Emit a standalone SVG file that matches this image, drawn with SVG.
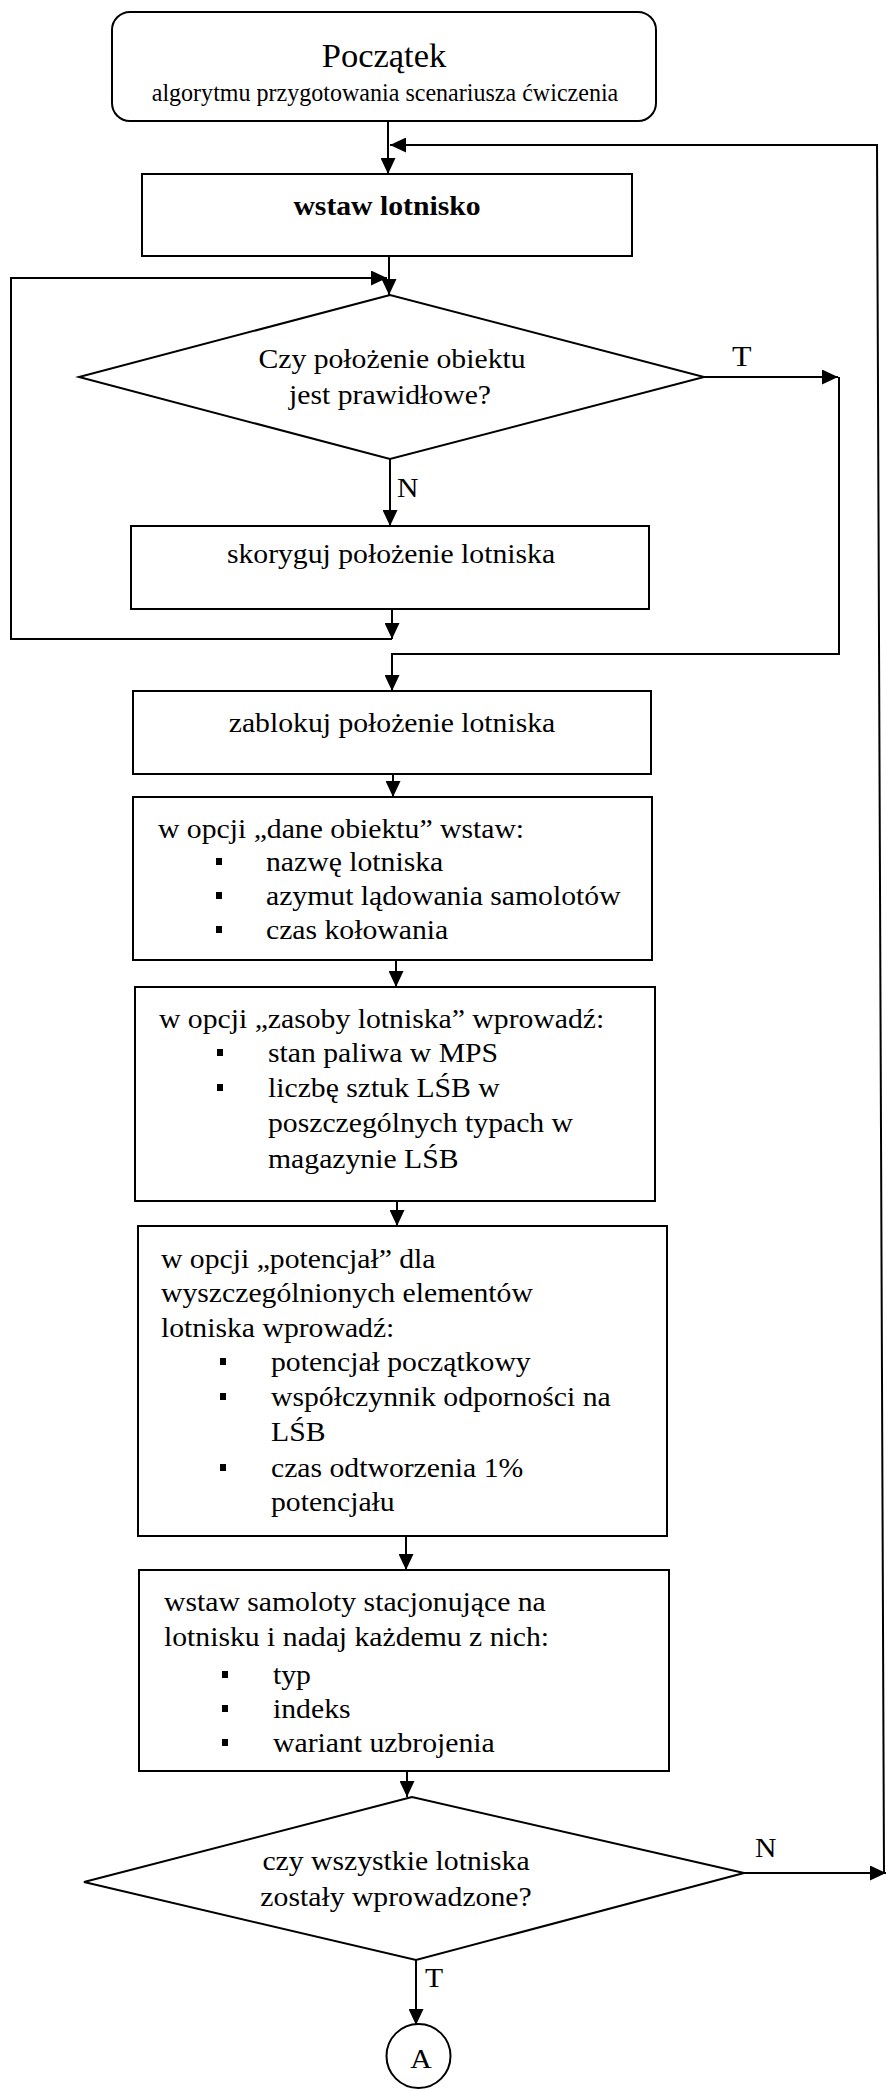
<svg xmlns="http://www.w3.org/2000/svg" width="887" height="2091" viewBox="0 0 887 2091">
  <style>
    .box { fill: #fff; stroke: #000; stroke-width: 2; }
    .ln { fill: none; stroke: #000; stroke-width: 2; }
    .t { font-family: "Liberation Serif", "Times New Roman", serif; font-size: 27px; fill: #000; }
    .c { text-anchor: middle; }
    .b { font-weight: bold; }
    .bul { fill: #000; }
  </style>
  <defs>
    <marker id="arr" markerWidth="16" markerHeight="15" refX="16" refY="7.5" orient="auto" markerUnits="userSpaceOnUse">
      <path d="M0,0 L16,7.5 L0,15 z" fill="#000"/>
    </marker>
  </defs>
  <rect width="887" height="2091" fill="#fff"/>

  <!-- connectors -->
  <g id="connectors">
    <path class="ln" d="M388,121 V174" marker-end="url(#arr)"/>
    <path class="ln" d="M884,1873 L877,145 H390" marker-end="url(#arr)"/>
    <path class="ln" d="M389,256 V295" marker-end="url(#arr)"/>
    <path class="ln" d="M704,377 H838" marker-end="url(#arr)"/>
    <path class="ln" d="M839,377 V654 H392 V691" marker-end="url(#arr)"/>
    <path class="ln" d="M390,459 V526" marker-end="url(#arr)"/>
    <path class="ln" d="M392,609 V639" marker-end="url(#arr)"/>
    <path class="ln" d="M392,639 H11 V278 H387" marker-end="url(#arr)"/>
    <path class="ln" d="M393,774 V797" marker-end="url(#arr)"/>
    <path class="ln" d="M396,960 V987" marker-end="url(#arr)"/>
    <path class="ln" d="M397,1201 V1226" marker-end="url(#arr)"/>
    <path class="ln" d="M406,1536 V1570" marker-end="url(#arr)"/>
    <path class="ln" d="M407,1771 V1797" marker-end="url(#arr)"/>
    <path class="ln" d="M744,1873 H886" marker-end="url(#arr)"/>
    <path class="ln" d="M416,1960 V2025" marker-end="url(#arr)"/>
    <text class="t" transform="translate(732 366) scale(1.1 1)" style="font-size:29px">T</text>
    <text class="t" transform="translate(397 497) scale(1.1 1)">N</text>
    <text class="t" transform="translate(755 1857) scale(1.1 1)">N</text>
    <text class="t" transform="translate(425 1987) scale(1.1 1)">T</text>
  </g>

  <!-- start terminator -->
  <g id="start">
    <rect class="box" x="112" y="12" width="544" height="109" rx="18" ry="18"/>
    <text class="t c" x="384" y="67" style="font-size:34.5px">Początek</text>
    <text class="t c" transform="translate(385 101) scale(0.925 1)" style="font-size:26px">algorytmu przygotowania scenariusza ćwiczenia</text>
  </g>

  <g id="wstaw-lotnisko">
    <rect class="box" x="142" y="174" width="490" height="82"/>
    <text class="t c b" transform="translate(387 215) scale(1.1 1)">wstaw lotnisko</text>
  </g>

  <g id="czy-polozenie">
    <polygon class="box" points="390,295 79,377 390,459 704,377"/>
    <text class="t c" transform="translate(392 368) scale(1.1 1)">Czy położenie obiektu</text>
    <text class="t c" transform="translate(390 404) scale(1.1 1)">jest prawidłowe?</text>
  </g>

  <g id="skoryguj">
    <rect class="box" x="131" y="526" width="518" height="83"/>
    <text class="t c" transform="translate(391 563) scale(1.1 1)">skoryguj położenie lotniska</text>
  </g>

  <g id="zablokuj">
    <rect class="box" x="133" y="691" width="518" height="83"/>
    <text class="t c" transform="translate(392 732) scale(1.1 1)">zablokuj położenie lotniska</text>
  </g>

  <g id="dane-obiektu">
    <rect class="box" x="133" y="797" width="519" height="163"/>
    <rect class="bul" x="216" y="858" width="6" height="7"/>
    <rect class="bul" x="216" y="892" width="6" height="7"/>
    <rect class="bul" x="216" y="926" width="6" height="7"/>
    <g transform="translate(158 0) scale(1.1 1)">
      <text class="t" x="0" y="838">w opcji „dane obiektu” wstaw:</text>
      <text class="t" x="98.2" y="871">nazwę lotniska</text>
      <text class="t" x="98.2" y="905">azymut lądowania samolotów</text>
      <text class="t" x="98.2" y="939">czas kołowania</text>
    </g>
  </g>

  <g id="zasoby-lotniska">
    <rect class="box" x="135" y="987" width="520" height="214"/>
    <rect class="bul" x="217" y="1049" width="6" height="7"/>
    <rect class="bul" x="217" y="1084" width="6" height="7"/>
    <g transform="translate(159 0) scale(1.1 1)">
      <text class="t" x="0" y="1028">w opcji „zasoby lotniska” wprowadź:</text>
      <text class="t" x="99.1" y="1062">stan paliwa w MPS</text>
      <text class="t" x="99.1" y="1097">liczbę sztuk LŚB w</text>
      <text class="t" x="99.1" y="1132">poszczególnych typach w</text>
      <text class="t" x="99.1" y="1168">magazynie LŚB</text>
    </g>
  </g>

  <g id="potencjal">
    <rect class="box" x="138" y="1226" width="529" height="310"/>
    <rect class="bul" x="220" y="1358" width="6" height="7"/>
    <rect class="bul" x="220" y="1393" width="6" height="7"/>
    <rect class="bul" x="220" y="1464" width="6" height="7"/>
    <g transform="translate(161 0) scale(1.1 1)">
      <text class="t" x="0" y="1268">w opcji „potencjał” dla</text>
      <text class="t" x="0" y="1302">wyszczególnionych elementów</text>
      <text class="t" x="0" y="1337">lotniska wprowadź:</text>
      <text class="t" x="100" y="1371">potencjał początkowy</text>
      <text class="t" x="100" y="1406">współczynnik odporności na</text>
      <text class="t" x="100" y="1441">LŚB</text>
      <text class="t" x="100" y="1477">czas odtworzenia 1%</text>
      <text class="t" x="100" y="1511">potencjału</text>
    </g>
  </g>

  <g id="samoloty">
    <rect class="box" x="139" y="1570" width="530" height="201"/>
    <rect class="bul" x="222" y="1671" width="6" height="7"/>
    <rect class="bul" x="222" y="1705" width="6" height="7"/>
    <rect class="bul" x="222" y="1739" width="6" height="7"/>
    <g transform="translate(164 0) scale(1.1 1)">
      <text class="t" x="0" y="1611">wstaw samoloty stacjonujące na</text>
      <text class="t" x="0" y="1646">lotnisku i nadaj każdemu z nich:</text>
      <text class="t" x="99.1" y="1684">typ</text>
      <text class="t" x="99.1" y="1718">indeks</text>
      <text class="t" x="99.1" y="1752">wariant uzbrojenia</text>
    </g>
  </g>

  <g id="czy-wszystkie">
    <polygon class="box" points="412,1797 84,1882 416,1960 744,1873"/>
    <text class="t c" transform="translate(396 1870) scale(1.1 1)">czy wszystkie lotniska</text>
    <text class="t c" transform="translate(396 1906) scale(1.1 1)">zostały wprowadzone?</text>
  </g>

  <g id="connector-A">
    <circle class="box" cx="418.5" cy="2056" r="32"/>
    <text class="t c" transform="translate(421 2068) scale(1.1 1)">A</text>
  </g>
</svg>
